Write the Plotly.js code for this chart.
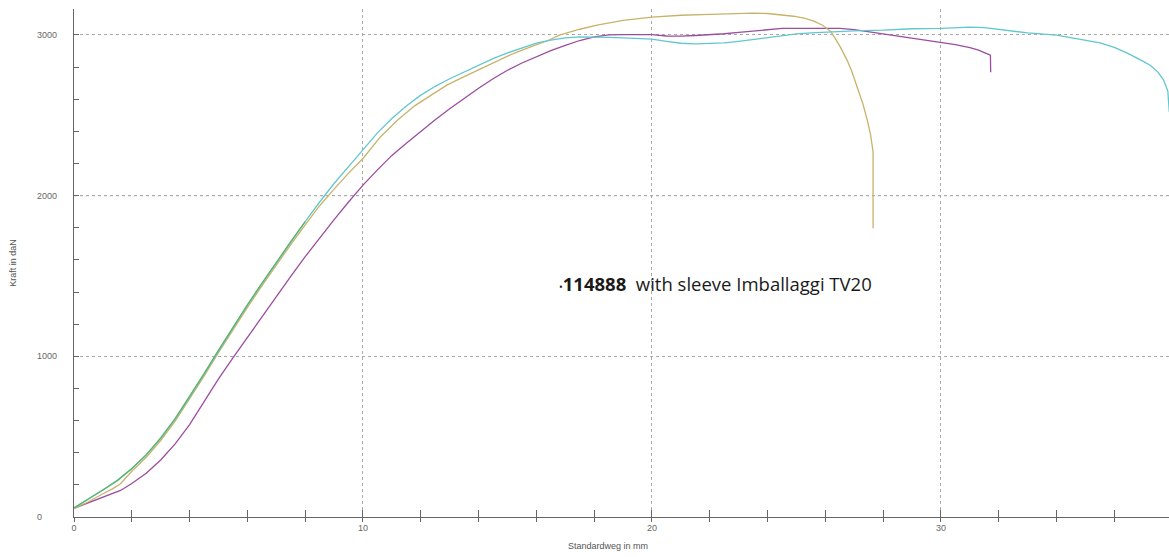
<!DOCTYPE html>
<html>
<head>
<meta charset="utf-8">
<script src="https://cdn.plot.ly/plotly-3.0.1.min.js"></script>
<style>html,body{margin:0;padding:0;background:#fff;}#chart{width:1169px;height:557px;}</style>
</head>
<body>
<div id="chart"></div>
<script>
// ---- data ----
const cyanX = [0,0.5,1.0,1.5,2.0,2.5,3.0,3.5,4.0,4.5,5.0,5.5,6.0,6.5,7.0,7.5,8.0,8.5,9.0,9.5,10.0,10.5,11.0,11.5,12.0,12.5,13.0,13.5,14.0,14.5,15.0,15.5,16.0,16.5,17.0,17.5,18.0,18.5,19.0,19.5,20.0,20.5,21.0,21.5,22.0,22.5,23.0,23.5,24.0,24.5,25.0,25.5,26.0,26.5,27.0,28.0,29.0,30.0,31.0,31.5,32.0,33.0,34.0,35.0,35.5,36.0,36.5,37.0,37.25,37.5,37.7,37.85,37.9];
const cyanY = [55,110,165,225,300,385,490,610,745,890,1035,1180,1318,1452,1583,1712,1838,1960,2075,2180,2283,2390,2480,2558,2625,2680,2727,2770,2812,2852,2888,2920,2948,2968,2981,2987,2988,2985,2981,2977,2973,2960,2948,2944,2945,2950,2960,2972,2986,2997,3006,3013,3018,3022,3025,3029,3038,3040,3048,3045,3033,3012,2998,2968,2950,2922,2882,2835,2810,2770,2720,2650,2520];

const greenX = [0,0.5,1.0,1.5,2.0,2.5,3.0,3.5,4.0,4.5,5.0,5.5,6.0,6.5,7.0,7.5,8.0];
const greenY = [58,112,168,228,302,388,492,612,748,892,1038,1182,1320,1454,1585,1713,1838];

const goldX = [0,0.5,1.0,1.3,1.6,2.0,2.5,3.0,3.5,4.0,4.5,5.0,5.5,6.0,6.5,7.0,7.5,8.0,8.5,9.0,9.5,10.0,10.6,11.2,11.8,12.4,12.9,13.5,14.1,14.7,15.2,15.8,16.4,16.8,17.5,18.1,19.0,20.0,21.0,22.0,22.7,23.5,24.0,24.5,24.9,25.3,25.6,25.9,26.2,26.5,26.75,26.9,27.1,27.3,27.45,27.56,27.65,27.65];
const goldY = [52,95,145,172,205,285,372,476,596,732,876,1022,1166,1304,1438,1568,1695,1818,1937,2040,2140,2231,2365,2470,2560,2630,2687,2740,2791,2840,2884,2925,2965,2998,3035,3060,3090,3110,3122,3128,3133,3135,3133,3126,3116,3102,3085,3060,3019,2930,2843,2780,2676,2570,2470,2383,2272,1796];

const purpleX = [0,0.5,0.8,1.0,1.26,1.4,1.61,2.0,2.5,3.0,3.5,4.0,4.5,5.0,5.5,6.0,6.5,7.0,7.5,8.0,8.5,9.0,9.5,10.0,10.5,11.0,11.5,12.0,12.5,13.0,13.5,14.0,14.5,15.0,15.5,16.0,16.5,17.0,17.5,18.0,18.5,19.0,19.5,20.0,20.5,21.0,21.5,22.0,22.5,23.0,23.5,24.0,24.5,25.0,25.5,26.0,26.5,27.0,27.5,28.0,28.5,29.0,29.5,30.0,30.5,31.0,31.3,31.5,31.71,31.72];
const purpleY = [54,88,106,122,138,148,165,208,272,355,455,575,715,860,990,1118,1245,1372,1497,1620,1738,1850,1960,2065,2160,2250,2325,2400,2472,2540,2605,2668,2727,2780,2825,2866,2902,2935,2965,2988,3000,3002,3003,3002,2993,2992,2996,3000,3007,3016,3025,3033,3040,3041,3041,3041,3040,3033,3020,3007,2993,2980,2968,2956,2940,2920,2905,2890,2874,2768];

const xMajorTicks = [0,10,20,30];
const yTickVals = [0,1000,2000,3000];
const yTickText = ['0','1000','2000','3000'];
const strongGridY = [2000];
const noteText = '114888';
const noteRest = '  with sleeve Imballaggi TV20';
const noteX = 16.72, noteY = 1455;
const xTitle = 'Standardweg in mm';
const yTitle = 'Kraft in daN';

// ---- chart ----
const lw = 1.3;
const traces = [
  {x: purpleX, y: purpleY, mode:'lines', line:{color:'#9b4d9f', width:lw}},
  {x: goldX, y: goldY, mode:'lines', line:{color:'#c9b26a', width:lw}},
  {x: cyanX, y: cyanY, mode:'lines', line:{color:'#62c6cf', width:lw}},
  {x: greenX, y: greenY, mode:'lines', line:{color:'#5cb46c', width:lw}},
  {x: [0], y: [0], xaxis:'x2', mode:'markers', marker:{opacity:0}, hoverinfo:'skip'}
];

const xRange = [0, 37.89];
const yRange = [0, 3161];
const tickFont = {family:'Liberation Sans, Arial, sans-serif', size:9, color:'#666'};

const annotations = yTickVals.map((v,i)=>({
  xref:'paper', yref:'y', x:-0.0355, y:v, text:yTickText[i], showarrow:false,
  xanchor:'left', yanchor:'middle', font:tickFont
}));
annotations.push({
  xref:'x', yref:'y', x:noteX, y:noteY, xanchor:'left', yanchor:'middle', showarrow:false,
  text:'<span style="font-size:10px">•</span><b>'+noteText+'</b>'+noteRest,
  font:{family:'Open Sans, sans-serif', size:18.5, color:'#1a1a1a'}
});
annotations.push({
  xref:'paper', yref:'paper', x:0.488, y:-0.058, xanchor:'center', yanchor:'middle', showarrow:false,
  text:xTitle, font:{family:'Liberation Sans, Arial, sans-serif', size:9, color:'#555'}
});
annotations.push({
  xref:'paper', yref:'paper', x:-0.056, y:0.5, xanchor:'center', yanchor:'middle', showarrow:false,
  textangle:-90, text:yTitle, font:{family:'Liberation Sans, Arial, sans-serif', size:9, color:'#555'}
});

const shapes = strongGridY.map(v=>({
  type:'line', xref:'paper', yref:'y', x0:0, x1:1, y0:v, y1:v,
  line:{color:'#333', width:1, dash:'dot'}, layer:'below'
}));

const layout = {
  width:1169, height:557,
  margin:{l:74, r:0, t:9, b:40},
  paper_bgcolor:'#fff', plot_bgcolor:'#fff',
  showlegend:false,
  xaxis:{
    range:xRange, tickvals:xMajorTicks, ticktext:xMajorTicks.map(String),
    showgrid:true, gridcolor:'#aaa', griddash:'dot', gridwidth:1,
    zeroline:false, showline:true, linecolor:'#666', linewidth:1,
    ticks:'inside', ticklen:7, tickcolor:'#666', tickwidth:1,
    minor:{dtick:2, ticks:'inside', ticklen:7, tickcolor:'#666', showgrid:false},
    tickfont:tickFont, ticklabelstandoff:2
  },
  xaxis2:{
    range:xRange, overlaying:'x', anchor:'y', side:'bottom', dtick:2, tick0:0,
    showgrid:false, zeroline:false, showline:false, showticklabels:false,
    ticks:'outside', ticklen:4, tickcolor:'#666', tickwidth:1
  },
  yaxis:{
    range:yRange, tickvals:yTickVals, showticklabels:false,
    showgrid:true, gridcolor:'#aaa', griddash:'dot', gridwidth:1,
    zeroline:false, showline:true, linecolor:'#666', linewidth:1,
    ticks:'inside', ticklen:5, tickcolor:'#666',
    minor:{dtick:200, ticks:'inside', ticklen:5, tickcolor:'#666', showgrid:false}
  },
  annotations:annotations,
  shapes:shapes
};

Plotly.newPlot('chart', traces, layout, {staticPlot:true});
</script>
</body>
</html>
